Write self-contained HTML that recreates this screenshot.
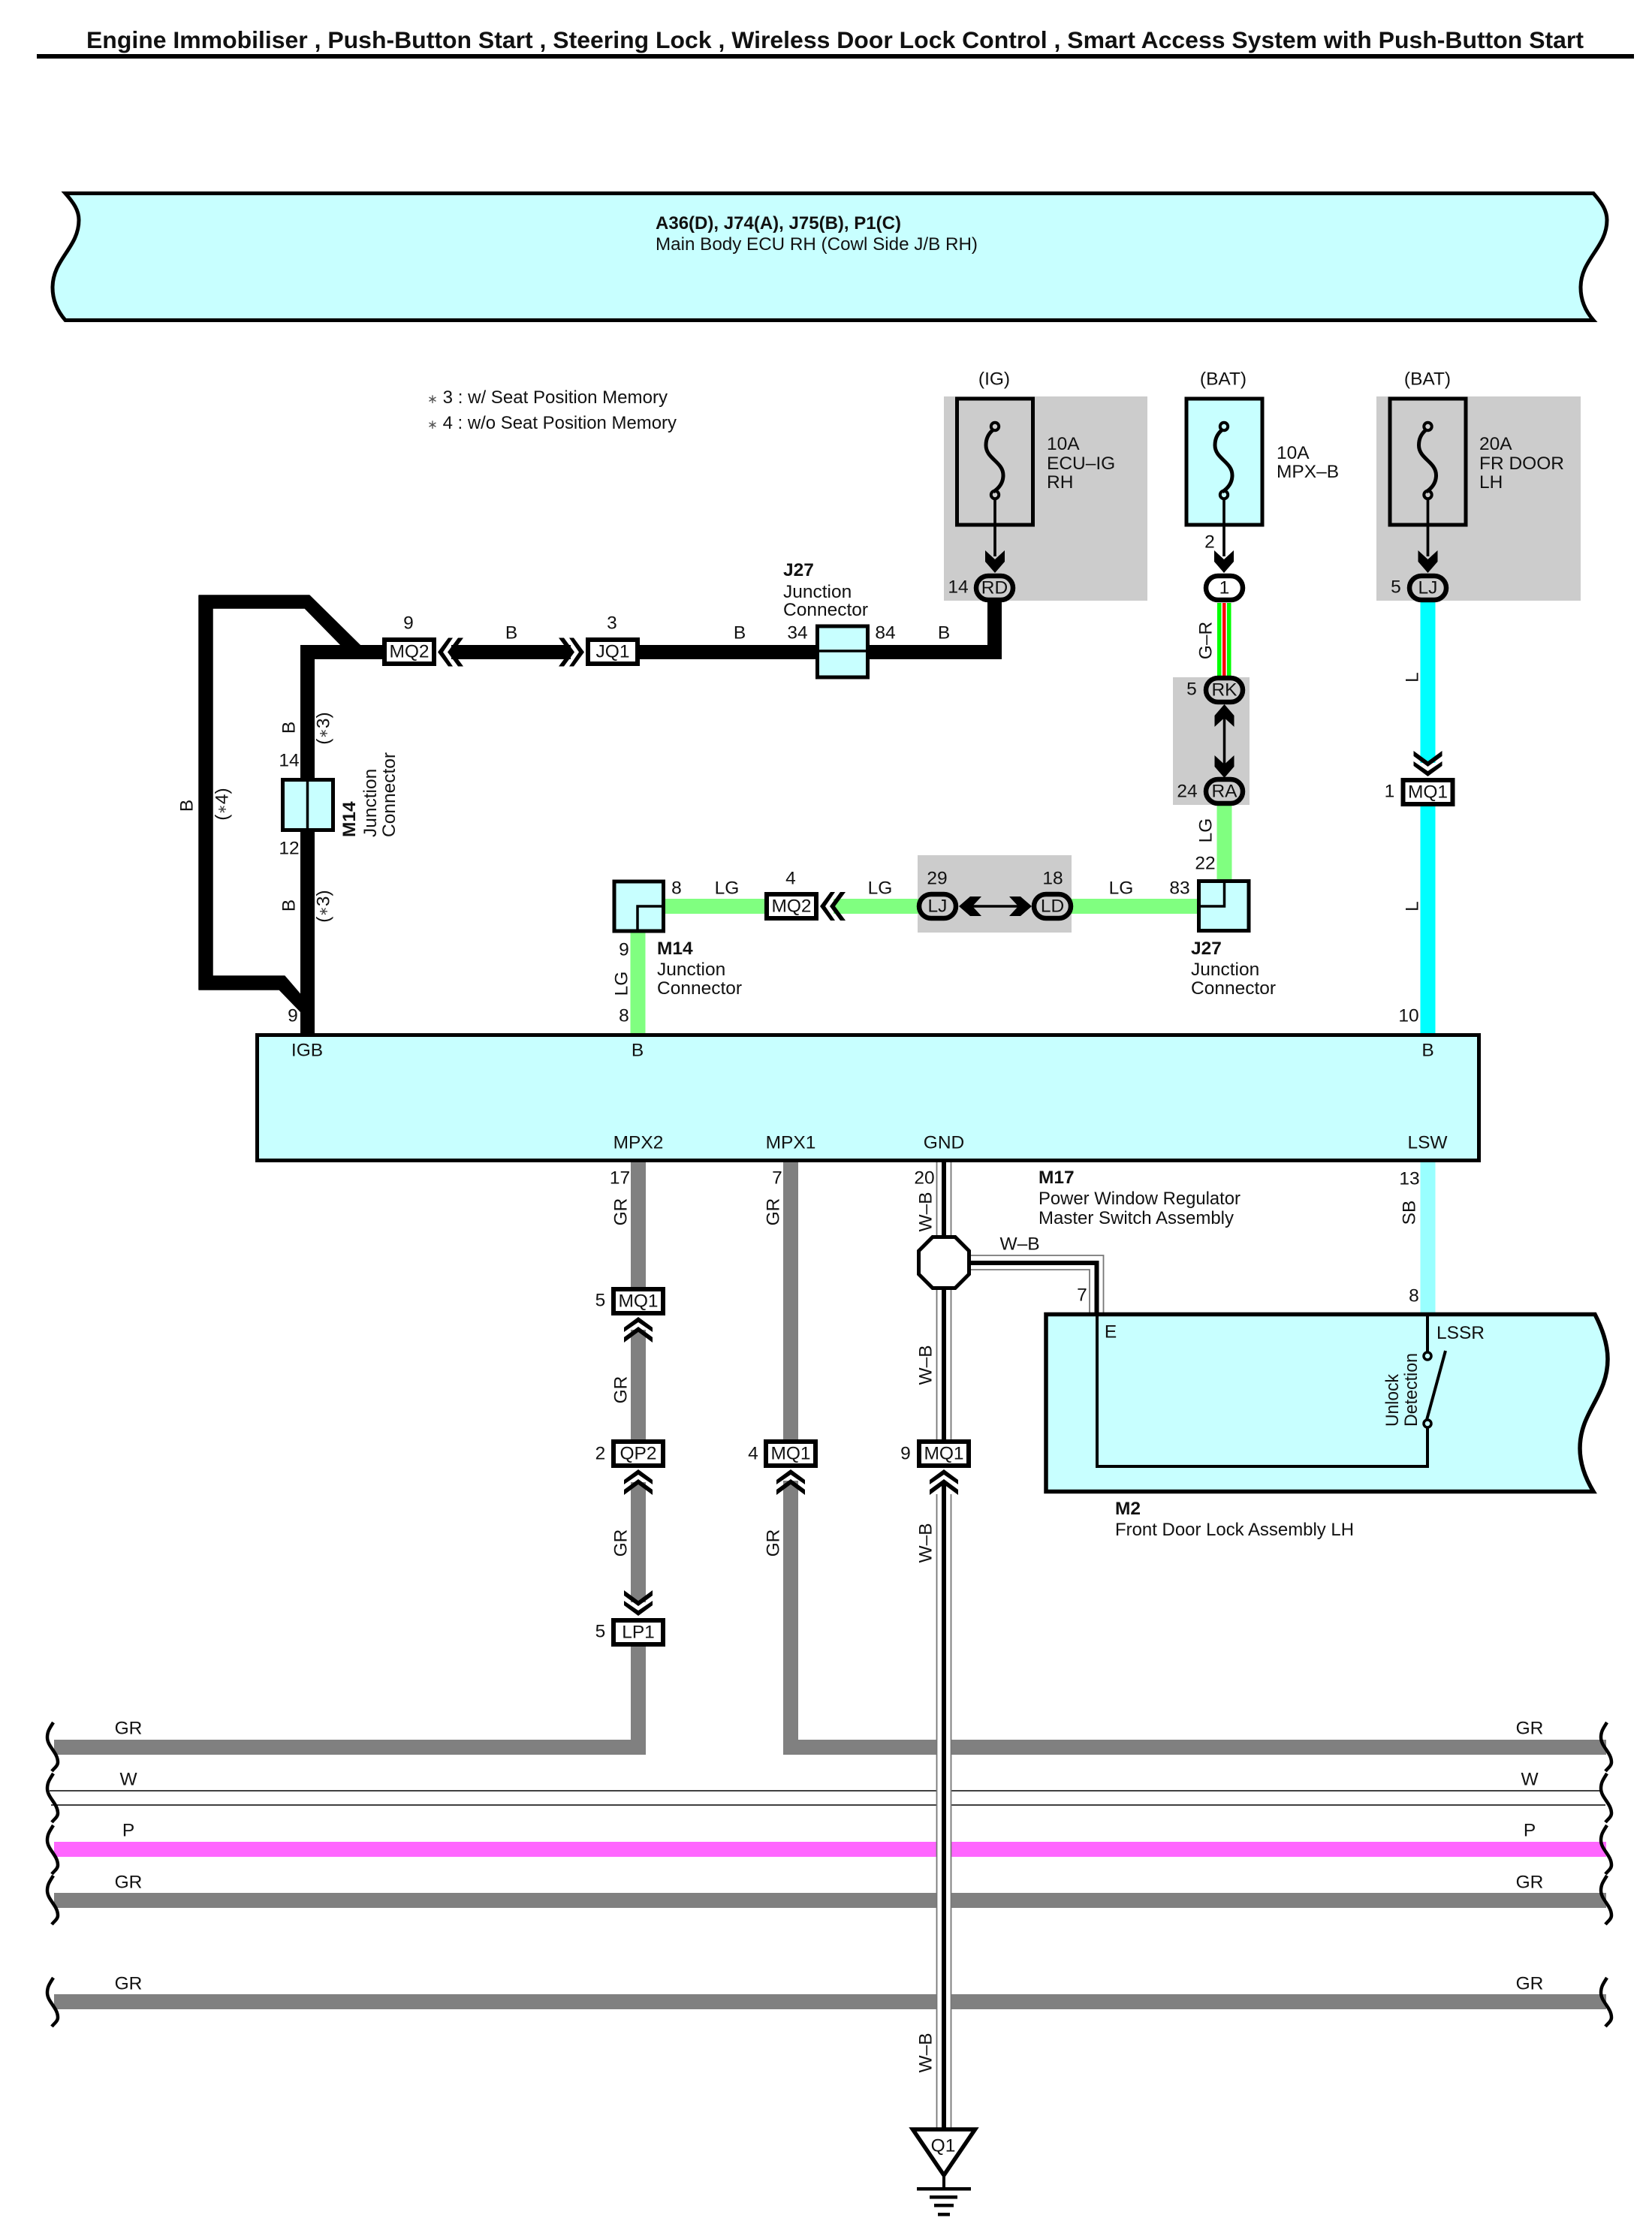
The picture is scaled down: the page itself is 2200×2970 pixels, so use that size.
<!DOCTYPE html>
<html lang="en">
<head>
<meta charset="utf-8">
<title>Wiring Diagram</title>
<style>
html,body{margin:0;padding:0;background:#fff;width:2200px;height:2970px;overflow:hidden}
svg{display:block}
text{font-family:"Liberation Sans",Arial,sans-serif;font-size:24.5px;fill:#111}
.c{text-anchor:middle;dominant-baseline:central}
.b{font-weight:bold}
.w{fill:none;stroke-linejoin:miter}
</style>
</head>
<body>
<svg xmlns="http://www.w3.org/2000/svg" width="2200" height="2970" viewBox="0 0 2200 2970">
<defs>
  <g id="chev" fill="#000">
    <polygon points="0,0 19,14 19,20 0,7 -19,20 -19,14"/>
    <polygon points="0,13 19,27 19,34 0,20 -19,34 -19,27"/>
  </g>
  <polygon id="fa" points="-13,-30 0,-18 13,-30 13,-15 0,0 -13,-15" fill="#000"/>
  <rect id="cb" x="-33" y="-16" width="66" height="32" fill="#fff" stroke="#000" stroke-width="6"/>
  <g id="fuse">
    <path d="M-3,42 C-9,47 -12,54 -12,62 C-12,80 11,84 11,102 C11,110 7,118 -2,124" fill="none" stroke="#000" stroke-width="5"/>
    <circle cx="0" cy="37" r="5.2" fill="none" stroke="#000" stroke-width="4"/>
    <circle cx="0" cy="128" r="5.2" fill="none" stroke="#000" stroke-width="4"/>
    <path d="M0,133 V210" stroke="#000" stroke-width="3.7"/>
  </g>
  <path id="wav" d="M71,0 C66,8 63,12 63,20 C63,32 77,40 77,53 C77,58 72,61 69,65" fill="none" stroke="#000" stroke-width="4.5"/>
</defs>

<!-- Title -->
<text x="115" y="64" class="b" style="font-size:31.5px" textLength="1994" lengthAdjust="spacingAndGlyphs">Engine Immobiliser , Push-Button Start , Steering Lock , Wireless Door Lock Control , Smart Access System with Push-Button Start</text>
<rect x="49" y="72" width="2127" height="6" fill="#000"/>

<!-- Top ECU -->
<path d="M87,257.5 H2122 C2133,270 2140,280 2140,293 C2140,330 2105,345 2105,383 C2105,400 2112,415 2122,426.5 H87 C77,415 70,400 70,383 C70,345 105,330 105,293 C105,280 98,270 87,257.5 Z" fill="#c8ffff" stroke="#000" stroke-width="5"/>
<text x="873" y="305" class="b" textLength="327" lengthAdjust="spacingAndGlyphs">A36(D), J74(A), J75(B), P1(C)</text>
<text x="873" y="333" textLength="429" lengthAdjust="spacingAndGlyphs">Main Body ECU RH (Cowl Side J/B RH)</text>

<!-- Notes -->
<text x="569" y="537" textLength="320" lengthAdjust="spacingAndGlyphs"><tspan font-size="17" fill="#555">∗</tspan> 3 : w/ Seat Position Memory</text>
<text x="569" y="571" textLength="332" lengthAdjust="spacingAndGlyphs"><tspan font-size="17" fill="#555">∗</tspan> 4 : w/o Seat Position Memory</text>

<!-- Gray regions -->
<rect x="1257" y="528" width="271" height="272" fill="#cccccc"/>
<rect x="1833" y="528" width="272" height="272" fill="#cccccc"/>
<rect x="1562" y="902" width="102" height="170" fill="#cccccc"/>
<rect x="1222" y="1139" width="205" height="103" fill="#cccccc"/>

<!-- Black wires -->
<path class="w" stroke="#000" stroke-width="19" d="M409.5,1380 V868.5 H512"/>
<path class="w" stroke="#000" stroke-width="19" d="M601,868.5 H760"/>
<path class="w" stroke="#000" stroke-width="19" d="M850,868.5 H1324.5 V798"/>
<polygon fill="#000" stroke="#000" stroke-width="1.5" stroke-linejoin="round" points="265,793 412,793 480,860 455,860 406,810 283,810 283,1300 379,1300 409,1335 409,1348 400,1347 372,1318 265,1318"/>

<!-- LG wires -->
<path class="w" stroke="#80ff80" stroke-width="20" d="M849.5,1240 V1376"/>
<path class="w" stroke="#80ff80" stroke-width="20" d="M884,1207 H1020"/>
<path class="w" stroke="#80ff80" stroke-width="20" d="M1110,1207 H1225"/>
<path class="w" stroke="#80ff80" stroke-width="20" d="M1425,1207 H1596"/>
<path class="w" stroke="#80ff80" stroke-width="20" d="M1630.5,1072 V1173"/>

<!-- G-R striped wire -->
<rect x="1620" y="803" width="20" height="98" fill="#fff"/>
<rect x="1621" y="803" width="5.5" height="98" fill="#00ff00"/>
<rect x="1628" y="803" width="4.5" height="98" fill="#ff0000"/>
<rect x="1634" y="803" width="5.5" height="98" fill="#00ff00"/>

<!-- L wire -->
<path class="w" stroke="#00ffff" stroke-width="20" d="M1901.5,800 V1016"/>
<path class="w" stroke="#00ffff" stroke-width="20" d="M1901.5,1072 V1376"/>
<!-- SB wire -->
<path class="w" stroke="#99ffff" stroke-width="20" d="M1901.5,1548 V1750"/>

<!-- Fuses -->
<rect x="1274.5" y="531" width="101" height="168" fill="none" stroke="#000" stroke-width="5"/>
<use href="#fuse" x="1325" y="531"/>
<rect x="1580" y="531" width="101" height="168" fill="#c8ffff" stroke="#000" stroke-width="5"/>
<use href="#fuse" x="1630" y="531"/>
<rect x="1851" y="531" width="101" height="168" fill="none" stroke="#000" stroke-width="5"/>
<use href="#fuse" x="1901.5" y="531"/>
<text class="c" x="1324" y="505">(IG)</text>
<text class="c" x="1629" y="505">(BAT)</text>
<text class="c" x="1901" y="505">(BAT)</text>
<text x="1394" y="599">10A</text><text x="1394" y="625">ECU–IG</text><text x="1394" y="650">RH</text>
<text x="1700" y="611">10A</text><text x="1700" y="636">MPX–B</text>
<text x="1970" y="599">20A</text><text x="1970" y="625">FR DOOR</text><text x="1970" y="650">LH</text>

<use href="#fa" x="1325" y="763"/>
<use href="#fa" x="1630" y="763"/>
<use href="#fa" x="1901.5" y="763"/>

<!-- Ovals -->
<g fill="none" stroke="#000" stroke-width="6.5">
  <rect x="1300" y="767" width="49" height="32" rx="16"/>
  <rect x="1606" y="767" width="49" height="32" rx="16" fill="#fff"/>
  <rect x="1877" y="767" width="49" height="32" rx="16"/>
  <rect x="1606" y="903" width="49" height="32" rx="16"/>
  <rect x="1606" y="1038" width="49" height="32" rx="16"/>
  <rect x="1224" y="1191" width="49" height="32" rx="16"/>
  <rect x="1377" y="1191" width="49" height="32" rx="16"/>
</g>
<text class="c" x="1324.5" y="783">RD</text>
<text class="c" x="1630.5" y="783">1</text>
<text class="c" x="1901.5" y="783">LJ</text>
<text class="c" x="1630.5" y="919">RK</text>
<text class="c" x="1630.5" y="1054">RA</text>
<text class="c" x="1248.5" y="1207">LJ</text>
<text class="c" x="1401.5" y="1207">LD</text>

<!-- Inner arrows -->
<path d="M1630.5,945 V1030" stroke="#000" stroke-width="3.5"/>
<use href="#fa" transform="translate(1630.5,938) rotate(180)"/>
<use href="#fa" x="1630.5" y="1036"/>
<path d="M1285,1207 H1365" stroke="#000" stroke-width="3.5"/>
<use href="#fa" transform="translate(1277,1207) rotate(90)"/>
<use href="#fa" transform="translate(1374,1207) rotate(-90)"/>

<!-- Junction J27 upper -->
<rect x="1088.5" y="834" width="67" height="68" fill="#c8ffff" stroke="#000" stroke-width="5"/>
<path d="M1088,867 H1156" stroke="#000" stroke-width="3.5"/>
<!-- Junction M14 upper -->
<rect x="376.5" y="1038.5" width="67" height="67" fill="#c8ffff" stroke="#000" stroke-width="5"/>
<path d="M409.5,1038 V1106" stroke="#000" stroke-width="3.5"/>
<!-- Junction M14 lower -->
<rect x="818" y="1174" width="65.5" height="66" fill="#c8ffff" stroke="#000" stroke-width="5"/>
<path d="M849,1240 V1207 H884" fill="none" stroke="#000" stroke-width="3.5"/>
<!-- Junction J27 lower -->
<rect x="1596.5" y="1173.5" width="66.5" height="66" fill="#c8ffff" stroke="#000" stroke-width="5"/>
<path d="M1630.5,1174 V1207 H1597" fill="none" stroke="#000" stroke-width="3.5"/>

<!-- Connector boxes upper -->
<use href="#cb" x="545" y="868"/><text class="c" x="545" y="868">MQ2</text>
<use href="#cb" x="816" y="868"/><text class="c" x="816" y="868">JQ1</text>
<use href="#cb" x="1054" y="1207"/><text class="c" x="1054" y="1207">MQ2</text>
<use href="#cb" x="1901.5" y="1055"/><text class="c" x="1901.5" y="1055">MQ1</text>
<use href="#chev" transform="translate(583,868.5) rotate(-90)"/>
<use href="#chev" transform="translate(778,868.5) rotate(90)"/>
<use href="#chev" transform="translate(1092,1207) rotate(-90)"/>
<use href="#chev" transform="translate(1901.5,1034) rotate(180)"/>

<!-- ECU body -->
<rect x="342.5" y="1378.5" width="1627" height="167" fill="#c8ffff" stroke="#000" stroke-width="5"/>
<text class="c" x="409" y="1399">IGB</text>
<text class="c" x="849" y="1399">B</text>
<text class="c" x="1901.5" y="1399">B</text>
<text class="c" x="850" y="1522">MPX2</text>
<text class="c" x="1053" y="1522">MPX1</text>
<text class="c" x="1257" y="1522">GND</text>
<text class="c" x="1901" y="1522">LSW</text>

<!-- Labels upper -->
<text class="c" x="544" y="830">9</text>
<text class="c" x="681" y="843">B</text>
<text class="c" x="815" y="830">3</text>
<text class="c" x="985" y="843">B</text>
<text class="c" x="1062" y="843">34</text>
<text class="c" x="1179" y="843">84</text>
<text class="c" x="1257" y="843">B</text>
<text x="1043" y="767" class="b">J27</text>
<text x="1043" y="796">Junction</text>
<text x="1043" y="820">Connector</text>
<text class="c" x="1276" y="782">14</text>
<text class="c" x="1611" y="722">2</text>
<text class="c" x="1859" y="782">5</text>
<text class="c" x="1587" y="918">5</text>
<text class="c" x="1581" y="1054">24</text>
<text class="c" x="1850.5" y="1054">1</text>
<text class="c" x="1605" y="1150">22</text>
<text class="c" x="1571" y="1183">83</text>
<text class="c" x="1493" y="1183">LG</text>
<text class="c" x="1248" y="1170">29</text>
<text class="c" x="1402" y="1170">18</text>
<text class="c" x="1172" y="1183">LG</text>
<text class="c" x="1053" y="1170">4</text>
<text class="c" x="968" y="1183">LG</text>
<text class="c" x="901" y="1183">8</text>
<text class="c" x="831" y="1265">9</text>
<text class="c" x="831" y="1353">8</text>
<text class="c" x="390" y="1353">9</text>
<text class="c" x="385" y="1013">14</text>
<text class="c" x="385" y="1130">12</text>
<text class="c" x="1876" y="1353">10</text>
<text x="875" y="1271" class="b">M14</text>
<text x="875" y="1299">Junction</text>
<text x="875" y="1324">Connector</text>
<text x="1586" y="1271" class="b">J27</text>
<text x="1586" y="1299">Junction</text>
<text x="1586" y="1324">Connector</text>

<!-- Rotated upper -->
<text class="c" transform="translate(385,969) rotate(-90)">B</text>
<text class="c" transform="translate(431,970) rotate(-90)">(<tspan font-size="16" fill="#444">∗</tspan>3)</text>
<text class="c" transform="translate(385,1206) rotate(-90)">B</text>
<text class="c" transform="translate(431,1207) rotate(-90)">(<tspan font-size="16" fill="#444">∗</tspan>3)</text>
<text class="c" transform="translate(249,1073) rotate(-90)">B</text>
<text class="c" transform="translate(296,1071) rotate(-90)">(<tspan font-size="16" fill="#444">∗</tspan>4)</text>
<text class="b" transform="translate(473,1115) rotate(-90)">M14</text>
<text transform="translate(501,1115) rotate(-90)">Junction</text>
<text transform="translate(526,1115) rotate(-90)">Connector</text>
<text class="c" transform="translate(828,1310) rotate(-90)">LG</text>
<text class="c" transform="translate(1606,853) rotate(-90)">G–R</text>
<text class="c" transform="translate(1606,1106) rotate(-90)">LG</text>
<text class="c" transform="translate(1881,902) rotate(-90)">L</text>
<text class="c" transform="translate(1881,1207) rotate(-90)">L</text>

<!-- Bus wires -->
<path class="w" stroke="#808080" stroke-width="20" d="M850,2190 V2327 H72"/>
<path class="w" stroke="#808080" stroke-width="20" d="M1053,1972 V2327 H2139"/>
<path d="M66,2385 H2134 M68,2404 H2138" stroke="#000" stroke-width="1.6"/>
<rect x="72" y="2453" width="2067" height="20" fill="#ff66ff"/>
<rect x="72" y="2521" width="2067" height="20" fill="#808080"/>
<rect x="72" y="2656" width="2067" height="20" fill="#808080"/>

<!-- Wavy ends -->
<use href="#wav" y="2294"/><use href="#wav" y="2362"/><use href="#wav" y="2431"/><use href="#wav" y="2498"/><use href="#wav" y="2634"/>
<use href="#wav" x="2069" y="2294"/><use href="#wav" x="2069" y="2362"/><use href="#wav" x="2069" y="2431"/><use href="#wav" x="2069" y="2498"/><use href="#wav" x="2069" y="2634"/>

<text class="c" x="171" y="2302">GR</text><text class="c" x="171" y="2370">W</text><text class="c" x="171" y="2438">P</text><text class="c" x="171" y="2507">GR</text><text class="c" x="171" y="2642">GR</text>
<text class="c" x="2037" y="2302">GR</text><text class="c" x="2037" y="2370">W</text><text class="c" x="2037" y="2438">P</text><text class="c" x="2037" y="2507">GR</text><text class="c" x="2037" y="2642">GR</text>

<!-- GR verticals -->
<path class="w" stroke="#808080" stroke-width="20" d="M850,1548 V1716"/>
<path class="w" stroke="#808080" stroke-width="20" d="M850,1771 V1919"/>
<path class="w" stroke="#808080" stroke-width="20" d="M850,1974 V2134"/>
<path class="w" stroke="#808080" stroke-width="20" d="M1053,1548 V1919"/>
<path class="w" stroke="#808080" stroke-width="20" d="M1053,1974 V2000"/>

<!-- GND wire -->
<rect x="1247" y="1548" width="20" height="1286" fill="#fff"/>
<path d="M1247.5,1548 V1920 M1266.5,1548 V1920 M1247.5,1990 V2834 M1266.5,1990 V2834" stroke="#777" stroke-width="1.8"/>
<path d="M1257,1548 V1920 M1257,1974 V2834" stroke="#000" stroke-width="6"/>
<!-- GND branch -->
<path d="M1290,1672 H1469.5 V1750 M1290,1691 H1451 V1750" fill="none" stroke="#777" stroke-width="1.8"/>
<path d="M1290,1682 H1460.5 V1752" fill="none" stroke="#000" stroke-width="6"/>

<!-- Octagon -->
<polygon points="1242,1647.5 1272,1647.5 1290.5,1666 1290.5,1697 1272,1715.5 1242,1715.5 1223.5,1697 1223.5,1666" fill="#fff" stroke="#000" stroke-width="5"/>

<!-- Lower connectors -->
<use href="#cb" x="850" y="1733"/><text class="c" x="850" y="1733">MQ1</text>
<use href="#cb" x="850" y="1936"/><text class="c" x="850" y="1936">QP2</text>
<use href="#cb" x="850" y="2174"/><text class="c" x="850" y="2174">LP1</text>
<use href="#cb" x="1053" y="1936"/><text class="c" x="1053" y="1936">MQ1</text>
<use href="#cb" x="1257" y="1936"/><text class="c" x="1257" y="1936">MQ1</text>
<use href="#chev" transform="translate(850,1754)"/>
<use href="#chev" transform="translate(850,1957)"/>
<use href="#chev" transform="translate(1053,1957)"/>
<use href="#chev" transform="translate(1257,1957)"/>
<use href="#chev" transform="translate(850,2152) rotate(180)"/>

<!-- Lower labels -->
<text class="c" x="825.5" y="1569">17</text>
<text class="c" x="1035" y="1569">7</text>
<text class="c" x="1231" y="1569">20</text>
<text class="c" x="799.5" y="1732">5</text>
<text class="c" x="799.5" y="1936">2</text>
<text class="c" x="799.5" y="2173">5</text>
<text class="c" x="1003" y="1936">4</text>
<text class="c" x="1206" y="1936">9</text>
<text class="c" x="1358" y="1657">W–B</text>
<text class="c" x="1441" y="1725">7</text>
<text class="c" x="1877" y="1570">13</text>
<text class="c" x="1883" y="1726">8</text>
<text class="c" transform="translate(827,1614) rotate(-90)">GR</text>
<text class="c" transform="translate(827,1851) rotate(-90)">GR</text>
<text class="c" transform="translate(827,2055) rotate(-90)">GR</text>
<text class="c" transform="translate(1030,1614) rotate(-90)">GR</text>
<text class="c" transform="translate(1030,2055) rotate(-90)">GR</text>
<text class="c" transform="translate(1233,1614) rotate(-90)">W–B</text>
<text class="c" transform="translate(1233,1818) rotate(-90)">W–B</text>
<text class="c" transform="translate(1233,2055) rotate(-90)">W–B</text>
<text class="c" transform="translate(1233,2734) rotate(-90)">W–B</text>
<text class="c" transform="translate(1877,1615) rotate(-90)">SB</text>

<text x="1383" y="1576" class="b">M17</text>
<text x="1383" y="1604" textLength="269" lengthAdjust="spacingAndGlyphs">Power Window Regulator</text>
<text x="1383" y="1630" textLength="260" lengthAdjust="spacingAndGlyphs">Master Switch Assembly</text>

<!-- M2 -->
<path d="M1393,1750.5 H2124 C2134,1770 2141,1790 2141,1810 C2141,1860 2104,1880 2104,1929 C2104,1950 2112,1970 2122,1986.5 H1393 Z" fill="#c8ffff" stroke="#000" stroke-width="5.5"/>
<path d="M1461,1750 V1953 H1901 V1900" fill="none" stroke="#000" stroke-width="4"/>
<path d="M1901,1750 V1802" stroke="#000" stroke-width="4"/>
<circle cx="1901" cy="1806" r="5" fill="#c8ffff" stroke="#000" stroke-width="3.5"/>
<circle cx="1901" cy="1896" r="5" fill="#c8ffff" stroke="#000" stroke-width="3.5"/>
<path d="M1900,1891 L1925,1799" stroke="#000" stroke-width="4"/>
<text class="c" x="1479" y="1774">E</text>
<text x="1913" y="1783">LSSR</text>
<text transform="translate(1862,1900) rotate(-90)" textLength="70" lengthAdjust="spacingAndGlyphs">Unlock</text>
<text transform="translate(1887,1900) rotate(-90)" textLength="98" lengthAdjust="spacingAndGlyphs">Detection</text>
<text x="1485" y="2017" class="b">M2</text>
<text x="1485" y="2045" textLength="318" lengthAdjust="spacingAndGlyphs">Front Door Lock Assembly LH</text>

<!-- Ground -->
<polygon points="1215.5,2836 1298.5,2836 1257,2897" fill="#fff" stroke="#000" stroke-width="5.5"/>
<text class="c" x="1256" y="2858">Q1</text>
<path d="M1257,2895 V2915" stroke="#000" stroke-width="4"/>
<rect x="1221" y="2913" width="72" height="4.5" fill="#000"/>
<rect x="1238" y="2924" width="37" height="4.5" fill="#000"/>
<rect x="1244" y="2935" width="26" height="4.5" fill="#000"/>
<rect x="1249" y="2947" width="16" height="4.5" fill="#000"/>
</svg>
</body>
</html>
